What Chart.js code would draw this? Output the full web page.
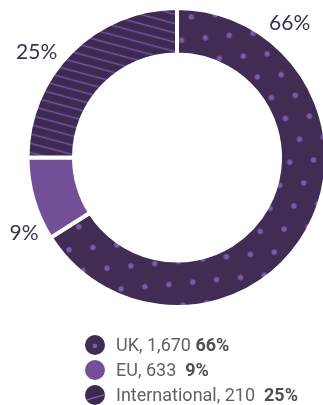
<!DOCTYPE html>
<html>
<head>
<meta charset="utf-8">
<script src="https://cdn.jsdelivr.net/npm/chart.js@4/dist/chart.umd.min.js"></script>
<style>
  html, body { margin: 0; padding: 0; background: #fff; }
  #wrap { position: relative; width: 323px; height: 405px; overflow: hidden; }
  #chart { position: absolute; left: 0; top: 0; }
  #legend { position: absolute; left: 85px; top: 332px; font-family: Roboto, "Noto Sans", sans-serif;
            font-size: 18px; color: #626262; }
  .row { display: flex; align-items: center; height: 25px; white-space: pre; }
  .row canvas { margin-right: 11px; }
  .row b { color: #505050; font-weight: 700; }
</style>
</head>
<body>
<div id="wrap">
  <canvas id="chart" width="323" height="315"></canvas>
  <div id="legend"></div>
</div>
<script>
// Student domicile split
const categories = ['UK', 'EU', 'International'];
const counts = ['1,670', '633', '210'];
const shares = [66, 9, 25];
const shareLabels = ['66%', '9%', '25%'];
// separators between count and share in the legend text
const legendGaps = [' ', '  ', '  '];

const DARK = '#412d54';
const DARK2 = '#3d2a50';
const MID = '#744f97';
const DOT = '#8058aa';
const LINE = '#7852a3';

const canvas = document.getElementById('chart');
const ctx = canvas.getContext('2d');

function dotPattern() {
  const c = document.createElement('canvas');
  c.width = 24; c.height = 44;
  const g = c.getContext('2d');
  g.fillStyle = DARK; g.fillRect(0, 0, 24, 44);
  g.fillStyle = DOT;
  [[6, 11], [18, 33]].forEach(([x, y]) => { g.beginPath(); g.arc(x, y, 2.7, 0, Math.PI * 2); g.fill(); });
  const p = ctx.createPattern(c, 'repeat');
  p.setTransform(new DOMMatrix().translate(3, 2).rotate(-5.5));
  return p;
}

function linePattern() {
  const c = document.createElement('canvas');
  c.width = 60; c.height = 9;
  const g = c.getContext('2d');
  g.fillStyle = DARK2; g.fillRect(0, 0, 60, 9);
  g.strokeStyle = LINE; g.lineWidth = 1.4;
  g.beginPath(); g.moveTo(0, 4.5); g.lineTo(60, 4.5); g.stroke();
  const p = ctx.createPattern(c, 'repeat');
  p.setTransform(new DOMMatrix().rotate(15));
  return p;
}

const fills = [dotPattern(), MID, linePattern()];

// percentage labels placed just outside the ring, part-way along each slice
const sliceLabels = {
  id: 'sliceLabels',
  afterDatasetsDraw(chart, args, opts) {
    const arcs = chart.getDatasetMeta(0).data;
    const c = chart.ctx;
    c.save();
    c.font = '400 21px Lato, sans-serif';
    c.fillStyle = '#3e2f51';
    c.textAlign = 'center';
    c.textBaseline = 'middle';
    arcs.forEach((arc, i) => {
      const { x, y, startAngle, endAngle, outerRadius } = arc.getProps(['x', 'y', 'startAngle', 'endAngle', 'outerRadius'], true);
      const a = startAngle + (endAngle - startAngle) * opts.along[i];
      const r = outerRadius + opts.gap[i];
      c.fillText(shareLabels[i], x + Math.cos(a) * r, y + Math.sin(a) * r);
    });
    c.restore();
  }
};

new Chart(ctx, {
  type: 'doughnut',
  data: {
    labels: categories,
    datasets: [{
      data: shares,
      backgroundColor: fills,
      hoverBackgroundColor: fills,
      borderColor: '#ffffff',
      borderWidth: 4,
      radius: 149.5,
      clip: false
    }]
  },
  options: {
    responsive: false,
    animation: false,
    cutout: '68.9%',
    layout: { padding: { left: 31, right: 0, top: 0, bottom: 0 } },
    events: [],
    plugins: {
      legend: { display: false },
      tooltip: { enabled: false },
      sliceLabels: { along: [0.168, 0.19, 0.41], gap: [26, 21, 26] }
    }
  },
  plugins: [sliceLabels]
});

// legend swatches
function swatch(i) {
  const c = document.createElement('canvas');
  c.width = 20; c.height = 20;
  const g = c.getContext('2d');
  g.beginPath(); g.arc(10, 10, 10, 0, Math.PI * 2); g.closePath();
  g.fillStyle = i === 1 ? MID : (i === 0 ? DARK : DARK2);
  g.fill();
  g.save(); g.clip();
  if (i === 0) {
    g.fillStyle = DOT; g.beginPath(); g.arc(10, 11, 2.3, 0, Math.PI * 2); g.fill();
  } else if (i === 2) {
    g.strokeStyle = '#8a64b0'; g.lineWidth = 1.2;
    g.beginPath(); g.moveTo(0, 15.5); g.lineTo(20, 9.5); g.stroke();
  }
  g.restore();
  return c;
}

const legend = document.getElementById('legend');
categories.forEach((name, i) => {
  const row = document.createElement('div');
  row.className = 'row';
  row.appendChild(swatch(i));
  const span = document.createElement('span');
  span.textContent = name + ', ' + counts[i] + legendGaps[i];
  const b = document.createElement('b');
  b.textContent = shareLabels[i];
  row.appendChild(span);
  row.appendChild(b);
  legend.appendChild(row);
});
</script>
</body>
</html>
